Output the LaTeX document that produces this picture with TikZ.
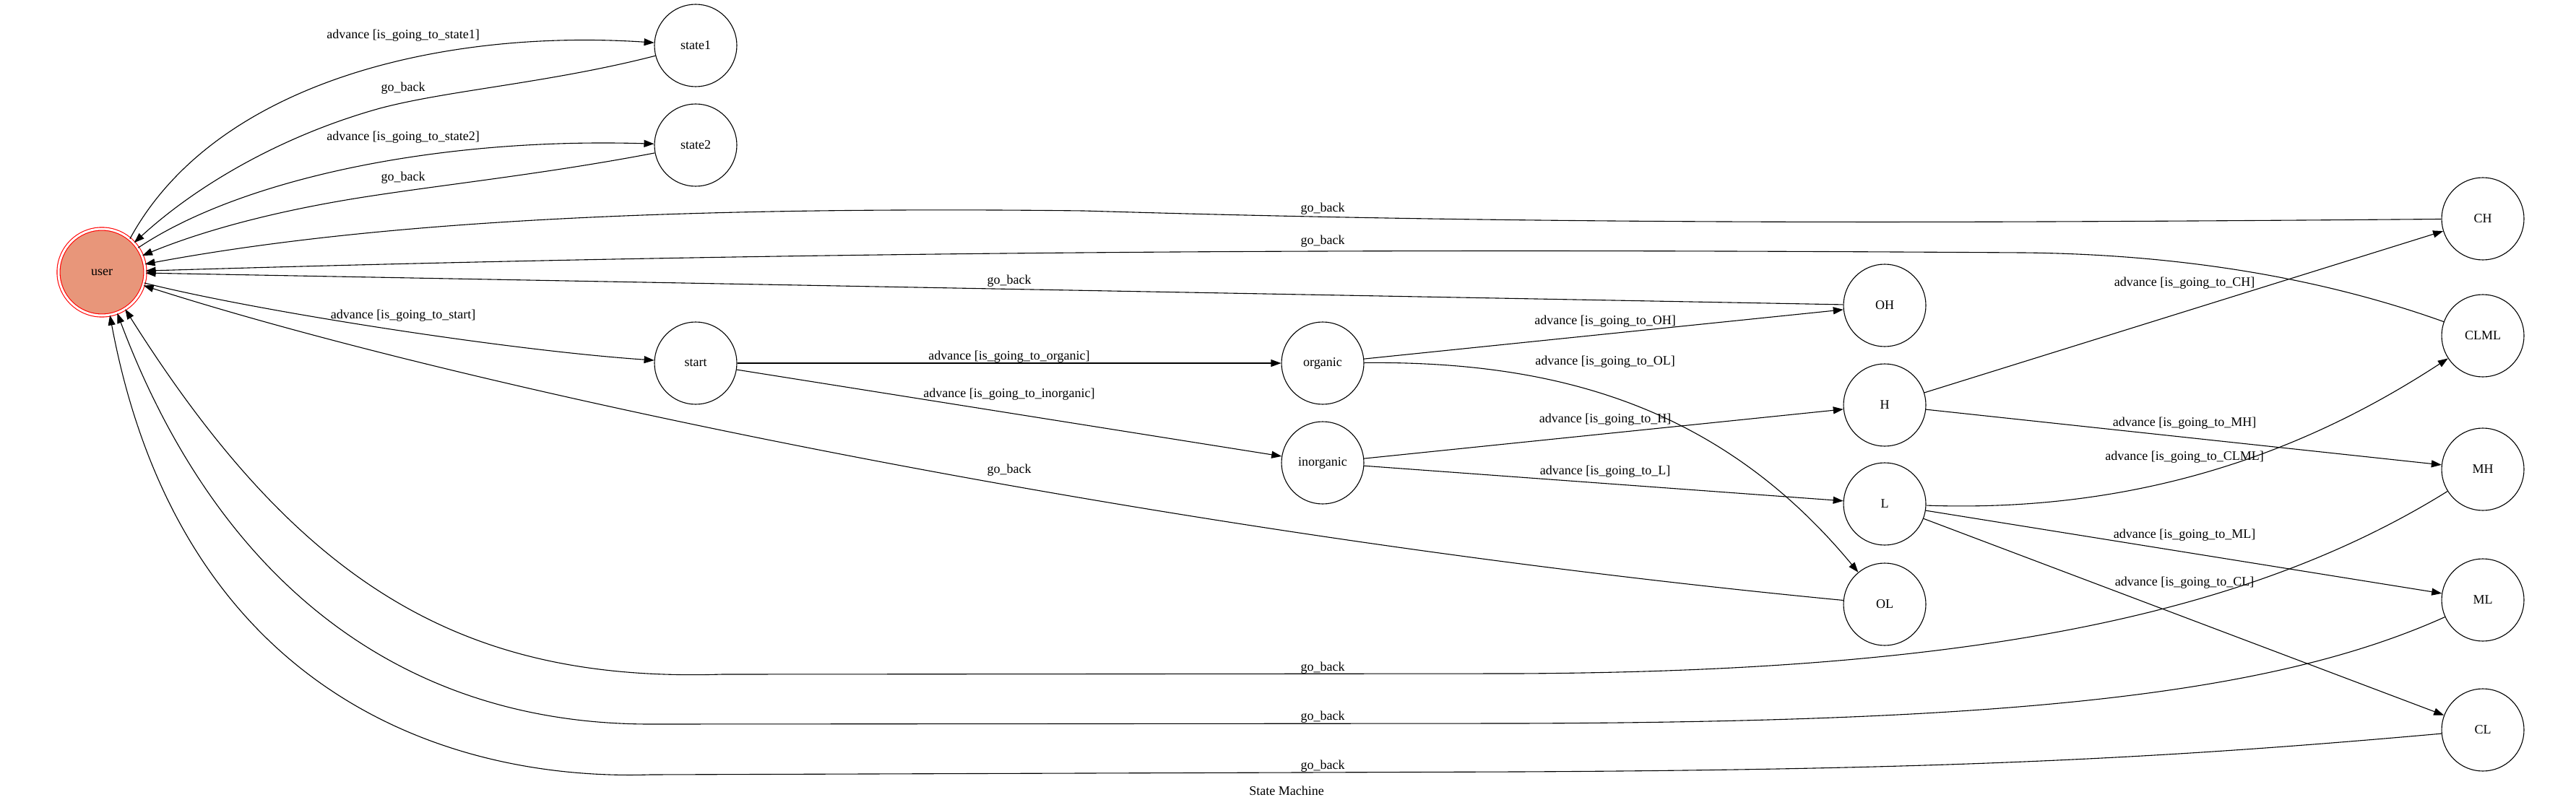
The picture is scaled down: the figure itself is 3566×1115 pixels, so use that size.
\documentclass[tikz,border=0pt]{standalone}
\usepackage{fontspec}
\setmainfont{Liberation Serif}
\usetikzlibrary{arrows.meta}
\definecolor{userfill}{HTML}{E8967A}

\begin{document}
\begin{tikzpicture}[x=1pt,y=-1pt,
        state/.style={circle,draw,line width=1.1pt,minimum size=114pt,inner sep=0pt,font=\fontsize{18}{20}\selectfont},
        lbl/.style={inner sep=0pt,font=\fontsize{18}{20}\selectfont},
        edge/.style={line width=1.1pt,-{Triangle[length=14pt,width=10pt]}}]
        \useasboundingbox (0,0) rectangle (3566,1115);
        \node[state,draw=red,double=white,double distance=3pt,fill=userfill,minimum size=120pt] (user) at (141,377) {user};
        \foreach \n/\x/\y in {state1/963/63, state2/963/201, start/963/503, organic/1831/503, inorganic/1831/641,
            OH/2609/423, H/2609/561, L/2609/698, OL/2609/837,
            CH/3437/303, CLML/3437/465, MH/3437/650, ML/3437/831, CL/3437/1011}{
            \node[state] (\n) at (\x,\y) {\n};
        }
        % user <-> state1, state2
        \draw[edge] (user.50) .. controls (300,110) and (620,40) .. (state1)
            node[lbl] (adv-state1) at (558,49) {advance [is\_going\_to\_state1]};
        \draw[edge] (state1) .. controls (760,115) and (620,125) .. (526,150) .. controls (400,185) and (280,250) .. (user)
            node[lbl] (back-state1) at (558,122) {go\_back};
        \draw[edge] (user) .. controls (330,250) and (600,190) .. (state2)
            node[lbl] (adv-state2) at (558,190) {advance [is\_going\_to\_state2]};
        \draw[edge] (state2) .. controls (760,240) and (620,255) .. (510,272) .. controls (380,292) and (280,320) .. (user)
            node[lbl] (back-state2) at (558,246) {go\_back};
        % go_back from the upper states
        \draw[edge] (CH) .. controls (2600,310) and (2100,310) .. (1500,292) .. controls (900,285) and (500,310) .. (user)
            node[lbl] (back-CH) at (1831,289) {go\_back};
        \draw[edge] (CLML) .. controls (3200,380) and (3000,352) .. (2800,350) .. controls (2000,345) and (1200,345) .. (user)
            node[lbl] (back-CLML) at (1831,334) {go\_back};
        \draw[edge] (OH) -- (user)
            node[lbl] (back-OH) at (1397,389) {go\_back};
        % start and its branches
        \draw[edge] (user) .. controls (350,430) and (700,485) .. (start)
            node[lbl] (adv-start) at (558,437) {advance [is\_going\_to\_start]};
        \draw[edge] (start) -- (organic)
            node[lbl] (adv-organic) at (1397,494) {advance [is\_going\_to\_organic]};
        \draw[edge] (start) -- (inorganic)
            node[lbl] (adv-inorganic) at (1397,546) {advance [is\_going\_to\_inorganic]};
        \draw[edge] (OL) .. controls (1600,740) and (650,540) .. (user)
            node[lbl] (back-OL) at (1397,651) {go\_back};
        \draw[edge] (organic) -- (OH)
            node[lbl] (adv-OH) at (2222,445) {advance [is\_going\_to\_OH]};
        \draw[edge] (organic) .. controls (2150,500) and (2380,560) .. (OL)
            node[lbl] (adv-OL) at (2222,501) {advance [is\_going\_to\_OL]};
        \draw[edge] (inorganic) -- (H)
            node[lbl] (adv-H) at (2222,581) {advance [is\_going\_to\_H]};
        \draw[edge] (inorganic) -- (L)
            node[lbl] (adv-L) at (2222,653) {advance [is\_going\_to\_L]};
        % H and L to the right column
        \draw[edge] (H) -- (CH)
            node[lbl] (adv-CH) at (3024,392) {advance [is\_going\_to\_CH]};
        \draw[edge] (H) -- (MH)
            node[lbl] (adv-MH) at (3024,586) {advance [is\_going\_to\_MH]};
        \draw[edge] (L) .. controls (3000,712) and (3230,600) .. (CLML)
            node[lbl] (adv-CLML) at (3024,633) {advance [is\_going\_to\_CLML]};
        \draw[edge] (L) -- (ML)
            node[lbl] (adv-ML) at (3024,741) {advance [is\_going\_to\_ML]};
        \draw[edge] (L) -- (CL)
            node[lbl] (adv-CL) at (3024,807) {advance [is\_going\_to\_CL]};
        % go_back along the bottom
        \draw[edge] (MH) .. controls (3100,860) and (2700,930) .. (2100,933) -- (1000,934) .. controls (650,945) and (420,820) .. (user)
            node[lbl] (back-MH) at (1831,925) {go\_back};
        \draw[edge] (ML) .. controls (3150,960) and (2800,1000) .. (2100,1002) -- (900,1003) .. controls (550,1003) and (300,800) .. (user)
            node[lbl] (back-ML) at (1831,993) {go\_back};
        \draw[edge] (CL) .. controls (3000,1050) and (2700,1066) .. (2100,1069) -- (900,1073) .. controls (620,1082) and (250,960) .. (user)
            node[lbl] (back-CL) at (1831,1061) {go\_back};
        \node[lbl] (title) at (1781,1095) {State Machine};
    \end{tikzpicture}
\end{document}
